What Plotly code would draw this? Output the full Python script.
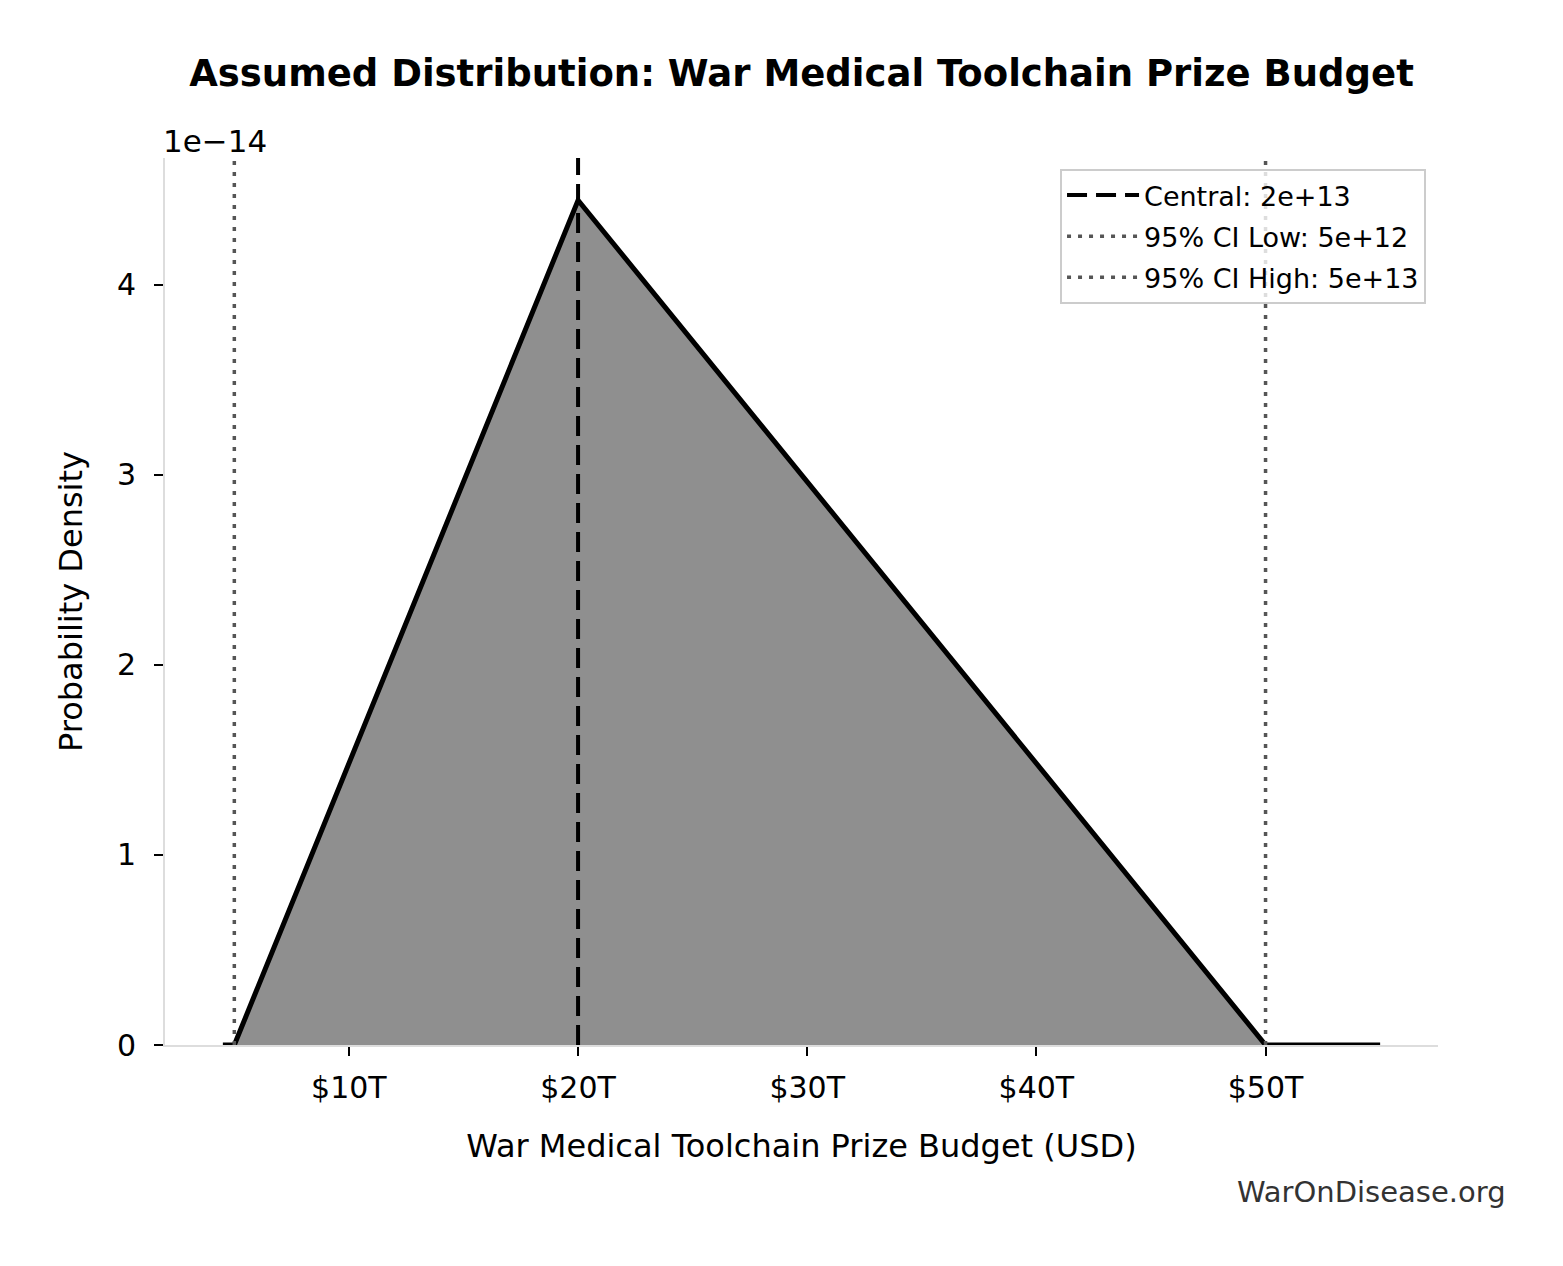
import plotly.graph_objects as go

# Data (USD and density)
x_vals = [4.5e12, 5e12, 20e12, 50e12, 55e12]
density = [0.0, 0.0, 4.444e-14, 0.0, 0.0]
central = 2e13
ci_low = 5e12
ci_high = 5e13
x_tick_vals = [10e12, 20e12, 30e12, 40e12, 50e12]
x_tick_text = ["$10T", "$20T", "$30T", "$40T", "$50T"]
y_tick_vals = [0, 1e-14, 2e-14, 3e-14, 4e-14]
y_tick_text = ["0", "1", "2", "3", "4"]

FONT = "DejaVu Sans"
x_span = max(x_vals) - min(x_vals)
x_range = [min(x_vals) - 0.05 * x_span, max(x_vals) + 0.05 * x_span]
y_top = max(density) * 1.05

W, H = 1547, 1250
L, T = 157, 150
PW, PH = 1273, 887

fig = go.Figure()
fig.add_trace(go.Scatter(
    x=x_vals, y=density, mode="lines", fill="tozeroy",
    fillcolor="#8f8f8f", line=dict(color="black", width=5),
    showlegend=False, hoverinfo="skip"))
fig.add_trace(go.Scatter(
    x=[central, central], y=[0, y_top], mode="lines",
    line=dict(color="black", width=4, dash="20px,9px"),
    name="Central: 2e+13", legendgroup="a"))
fig.add_trace(go.Scatter(
    x=[ci_low, ci_low], y=[0, y_top], mode="lines",
    line=dict(color="#555555", width=3.5, dash="4px,7px"),
    name="95% CI Low: 5e+12", legendgroup="b"))
fig.add_trace(go.Scatter(
    x=[ci_high, ci_high], y=[0, y_top], mode="lines",
    line=dict(color="#555555", width=3.5, dash="4px,7px"),
    name="95% CI High: 5e+13", legendgroup="c"))

fig.update_layout(
    width=W, height=H,
    margin=dict(l=L, r=W - L - PW, t=T, b=H - T - PH),
    paper_bgcolor="white", plot_bgcolor="white",
    font=dict(family=FONT, color="black", size=30),
    title=dict(text="<b>Assumed Distribution: War Medical Toolchain Prize Budget</b>",
               x=0.5, xref="paper", y=1 - 65 / H, yref="container",
               xanchor="center", yanchor="middle",
               font=dict(family=FONT, size=37, color="black")),
    showlegend=True,
    legend=dict(x=0.9906, y=1 - 11 / PH, xanchor="right", yanchor="top",
                bgcolor="rgba(255,255,255,0.8)", bordercolor="#cccccc",
                borderwidth=2, font=dict(family=FONT, size=27, color="black"),
                itemwidth=72, tracegroupgap=3),
)
fig.update_xaxes(
    range=x_range, showgrid=False, zeroline=False,
    showline=True, linecolor="#dddddd", linewidth=2,
    ticks="outside", ticklen=9, tickwidth=2, tickcolor="black",
    tickvals=x_tick_vals, ticktext=x_tick_text, ticklabelstandoff=6,
    tickfont=dict(family=FONT, size=30, color="black"),
    title=dict(text="War Medical Toolchain Prize Budget (USD)",
               font=dict(family=FONT, size=32, color="black"), standoff=31),
)
fig.update_yaxes(
    range=[0, y_top], showgrid=False, zeroline=False,
    showline=True, linecolor="#dddddd", linewidth=2,
    ticks="outside", ticklen=9, tickwidth=2, tickcolor="black",
    tickvals=y_tick_vals, ticktext=y_tick_text, ticklabelstandoff=12,
    tickfont=dict(family=FONT, size=30, color="black"),
    title=dict(text="Probability Density",
               font=dict(family=FONT, size=32, color="black"), standoff=25),
)
fig.add_annotation(text="1e\u221214", xref="paper", yref="paper", x=0, y=1,
                   xanchor="left", yanchor="bottom", xshift=-4, yshift=-3,
                   showarrow=False,
                   font=dict(family=FONT, size=31, color="black"))
fig.add_annotation(text="WarOnDisease.org", xref="paper", yref="paper",
                   x=(1508 - 165) / PW, y=(1045 - 1192) / PH,
                   xanchor="right", yanchor="middle", showarrow=False,
                   font=dict(family=FONT, size=29, color="#333333"))

fig.write_html("out.html")
